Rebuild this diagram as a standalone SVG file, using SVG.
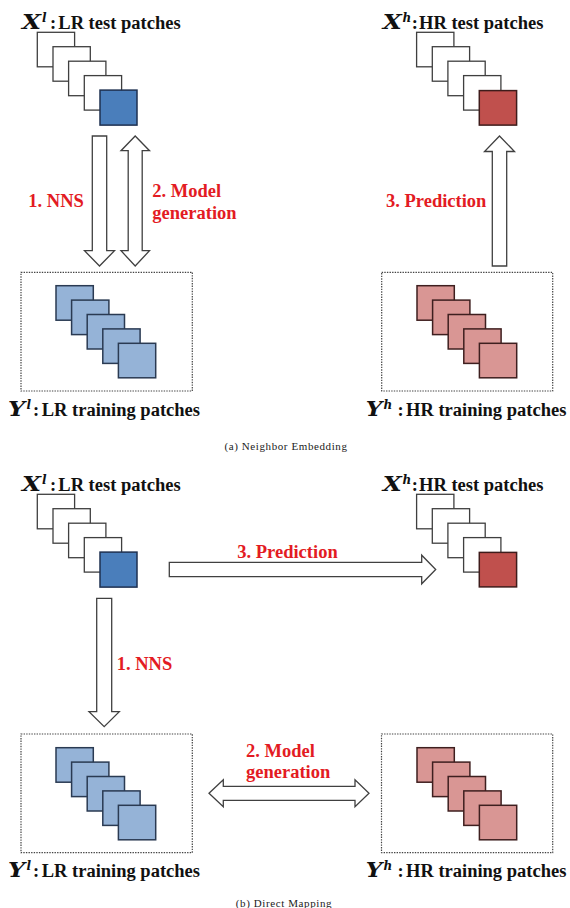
<svg xmlns="http://www.w3.org/2000/svg" xmlns:xlink="http://www.w3.org/1999/xlink" width="570" height="908" viewBox="0 0 570 908">
<style>
  .bg{fill:#ffffff}
  .w{fill:#ffffff;stroke:#3f3f3f;stroke-width:1.3}
  .dblue{fill:#4a7ebb;stroke:#1e3050;stroke-width:1.5}
  .lblue{fill:#95b3d7;stroke:#2a3a52;stroke-width:1.5}
  .dred{fill:#c0504d;stroke:#3e1c1b;stroke-width:1.5}
  .lred{fill:#d99694;stroke:#3e1f1f;stroke-width:1.5}
  .box{fill:none;stroke:#444444;stroke-width:1.2;stroke-dasharray:1.4 1.2}
  .arrow{fill:#ffffff;stroke:#404040;stroke-width:1.3;stroke-linejoin:miter}
  .lbl{font-family:"Liberation Serif","Times New Roman",serif;font-weight:bold;font-size:18.5px;fill:#111111}
  .math{font-family:"DejaVu Serif","Liberation Serif",serif;font-weight:bold;font-style:italic;font-size:19.5px;fill:#111111}
  .sup{font-family:"DejaVu Serif","Liberation Serif",serif;font-weight:bold;font-style:italic;font-size:12px;fill:#111111}
  .red{font-family:"Liberation Serif","Times New Roman",serif;font-weight:bold;font-size:18.5px;fill:#e31b23}
  .cap{font-family:"Liberation Serif","Times New Roman",serif;font-size:11px;fill:#222222;letter-spacing:0.6px}
</style>
<defs>
  <g id="whites">
    <rect class="w" x="0" y="0" width="37.3" height="34.5"/>
    <rect class="w" x="15.7" y="14.4" width="37.3" height="34.5"/>
    <rect class="w" x="31.3" y="28.9" width="37.3" height="34.5"/>
    <rect class="w" x="47" y="43.3" width="37.3" height="34.5"/>
  </g>
</defs>
<rect class="bg" x="0" y="0" width="570" height="908"/>

<!-- ========== (a) Neighbor Embedding ========== -->
<g id="a-lr-test">
  <use xlink:href="#whites" x="37.3" y="32.3"/>
  <rect class="dblue" x="100" y="90.1" width="37" height="35"/>
  <text class="math" x="22" y="28.5" textLength="19" lengthAdjust="spacingAndGlyphs">X</text>
  <text class="sup" x="42" y="21.5">l</text>
  <text class="lbl" x="50" y="28.5">:</text>
  <text class="lbl" x="58.3" y="28.5">LR test patches</text>
</g>

<g id="a-hr-test">
  <use xlink:href="#whites" x="416.6" y="32.3"/>
  <rect class="dred" x="479.3" y="90.6" width="37.3" height="34.5"/>
  <text class="math" x="382.7" y="28.5" textLength="19" lengthAdjust="spacingAndGlyphs">X</text>
  <text class="sup" x="402.5" y="21.5">h</text>
  <text class="lbl" x="411.8" y="28.5">:</text>
  <text class="lbl" x="419" y="28.5">HR test patches</text>
</g>

<g id="a-lr-train">
  <rect class="box" x="21" y="272.3" width="171.3" height="118.7"/>
  <rect class="lblue" x="56" y="285.7" width="37.3" height="34.5"/>
  <rect class="lblue" x="71.6" y="300.1" width="37.3" height="34.5"/>
  <rect class="lblue" x="87.2" y="314.5" width="37.3" height="34.5"/>
  <rect class="lblue" x="102.8" y="328.9" width="37.3" height="34.5"/>
  <rect class="lblue" x="118.4" y="343.3" width="37.3" height="34.5"/>
  <text class="math" x="8" y="415.5" textLength="17" lengthAdjust="spacingAndGlyphs">Y</text>
  <text class="sup" x="26.5" y="408.5">l</text>
  <text class="lbl" x="33" y="415.5">:</text>
  <text class="lbl" x="41.7" y="415.5">LR training patches</text>
</g>

<g id="a-hr-train">
  <rect class="box" x="381.7" y="272.3" width="171" height="118.7"/>
  <rect class="lred" x="417" y="285.7" width="37.3" height="34.5"/>
  <rect class="lred" x="432.6" y="300.1" width="37.3" height="34.5"/>
  <rect class="lred" x="448.2" y="314.5" width="37.3" height="34.5"/>
  <rect class="lred" x="463.8" y="328.9" width="37.3" height="34.5"/>
  <rect class="lred" x="479.4" y="343.3" width="37.3" height="34.5"/>
  <text class="math" x="365.7" y="415.5" textLength="16.5" lengthAdjust="spacingAndGlyphs">Y</text>
  <text class="sup" x="383.5" y="408.5">h</text>
  <text class="lbl" x="397.5" y="415.5">:</text>
  <text class="lbl" x="406" y="415.5">HR training patches</text>
</g>

<g id="a-connectors">
  <path class="arrow" d="M92.3,136 H106.7 V250.7 H114.5 L99.5,266 L84.5,250.7 H92.3 Z"/>
  <path class="arrow" d="M135.2,136 L149.5,150.7 H142.2 V250.7 H149.5 L135.2,266 L121,250.7 H128.2 V150.7 H121 Z"/>
  <path class="arrow" d="M499.5,136 L514.5,151.5 H506.7 V266 H492.3 V151.5 H484.5 Z"/>
  <text class="red" x="28.3" y="207">1. NNS</text>
  <text class="red" x="152.3" y="196.7">2. Model</text>
  <text class="red" x="152.3" y="219">generation</text>
  <text class="red" x="386" y="207.3">3. Prediction</text>
</g>

<text class="cap" x="286" y="450" text-anchor="middle">(a) Neighbor Embedding</text>

<!-- ========== (b) Direct Mapping ========== -->
<g id="b-lr-test">
  <use xlink:href="#whites" x="37.3" y="494.3"/>
  <rect class="dblue" x="100" y="552.1" width="37" height="35"/>
  <text class="math" x="22" y="490.5" textLength="19" lengthAdjust="spacingAndGlyphs">X</text>
  <text class="sup" x="42" y="483.5">l</text>
  <text class="lbl" x="50" y="490.5">:</text>
  <text class="lbl" x="58.3" y="490.5">LR test patches</text>
</g>

<g id="b-hr-test">
  <use xlink:href="#whites" x="416.6" y="494.3"/>
  <rect class="dred" x="479.3" y="552.4" width="37.3" height="34.5"/>
  <text class="math" x="382.7" y="490.5" textLength="19" lengthAdjust="spacingAndGlyphs">X</text>
  <text class="sup" x="402.5" y="483.5">h</text>
  <text class="lbl" x="411.8" y="490.5">:</text>
  <text class="lbl" x="419" y="490.5">HR test patches</text>
</g>

<g id="b-lr-train">
  <rect class="box" x="21" y="734" width="171.3" height="118.7"/>
  <rect class="lblue" x="56" y="747.7" width="37.3" height="34.5"/>
  <rect class="lblue" x="71.6" y="762.1" width="37.3" height="34.5"/>
  <rect class="lblue" x="87.2" y="776.5" width="37.3" height="34.5"/>
  <rect class="lblue" x="102.8" y="790.9" width="37.3" height="34.5"/>
  <rect class="lblue" x="118.4" y="805.3" width="37.3" height="34.5"/>
  <text class="math" x="8" y="876.7" textLength="17" lengthAdjust="spacingAndGlyphs">Y</text>
  <text class="sup" x="26.5" y="869.7">l</text>
  <text class="lbl" x="33" y="876.7">:</text>
  <text class="lbl" x="41.7" y="876.7">LR training patches</text>
</g>

<g id="b-hr-train">
  <rect class="box" x="381.5" y="734" width="171.2" height="118.7"/>
  <rect class="lred" x="417" y="747.7" width="37.3" height="34.5"/>
  <rect class="lred" x="432.6" y="762.1" width="37.3" height="34.5"/>
  <rect class="lred" x="448.2" y="776.5" width="37.3" height="34.5"/>
  <rect class="lred" x="463.8" y="790.9" width="37.3" height="34.5"/>
  <rect class="lred" x="479.4" y="805.3" width="37.3" height="34.5"/>
  <text class="math" x="365.7" y="876.7" textLength="16.5" lengthAdjust="spacingAndGlyphs">Y</text>
  <text class="sup" x="383.5" y="869.7">h</text>
  <text class="lbl" x="397.5" y="876.7">:</text>
  <text class="lbl" x="406" y="876.7">HR training patches</text>
</g>

<g id="b-connectors">
  <path class="arrow" d="M169.3,562.3 H421.7 V555.2 L435.7,569.5 L421.7,583.8 V576.7 H169.3 Z"/>
  <path class="arrow" d="M96.7,598.3 H111.7 V711.7 H119.3 L104.2,726.7 L89,711.7 H96.7 Z"/>
  <path class="arrow" d="M209,793.3 L223.3,779.8 V786.3 H355 V779.8 L369,793.3 L355,806.8 V800.3 H223.3 V806.8 Z"/>
  <text class="red" x="237.3" y="558.3">3. Prediction</text>
  <text class="red" x="116.7" y="670">1. NNS</text>
  <text class="red" x="246" y="757.3">2. Model</text>
  <text class="red" x="246" y="778.3">generation</text>
</g>

<text class="cap" x="284" y="907" text-anchor="middle">(b) Direct Mapping</text>
</svg>
